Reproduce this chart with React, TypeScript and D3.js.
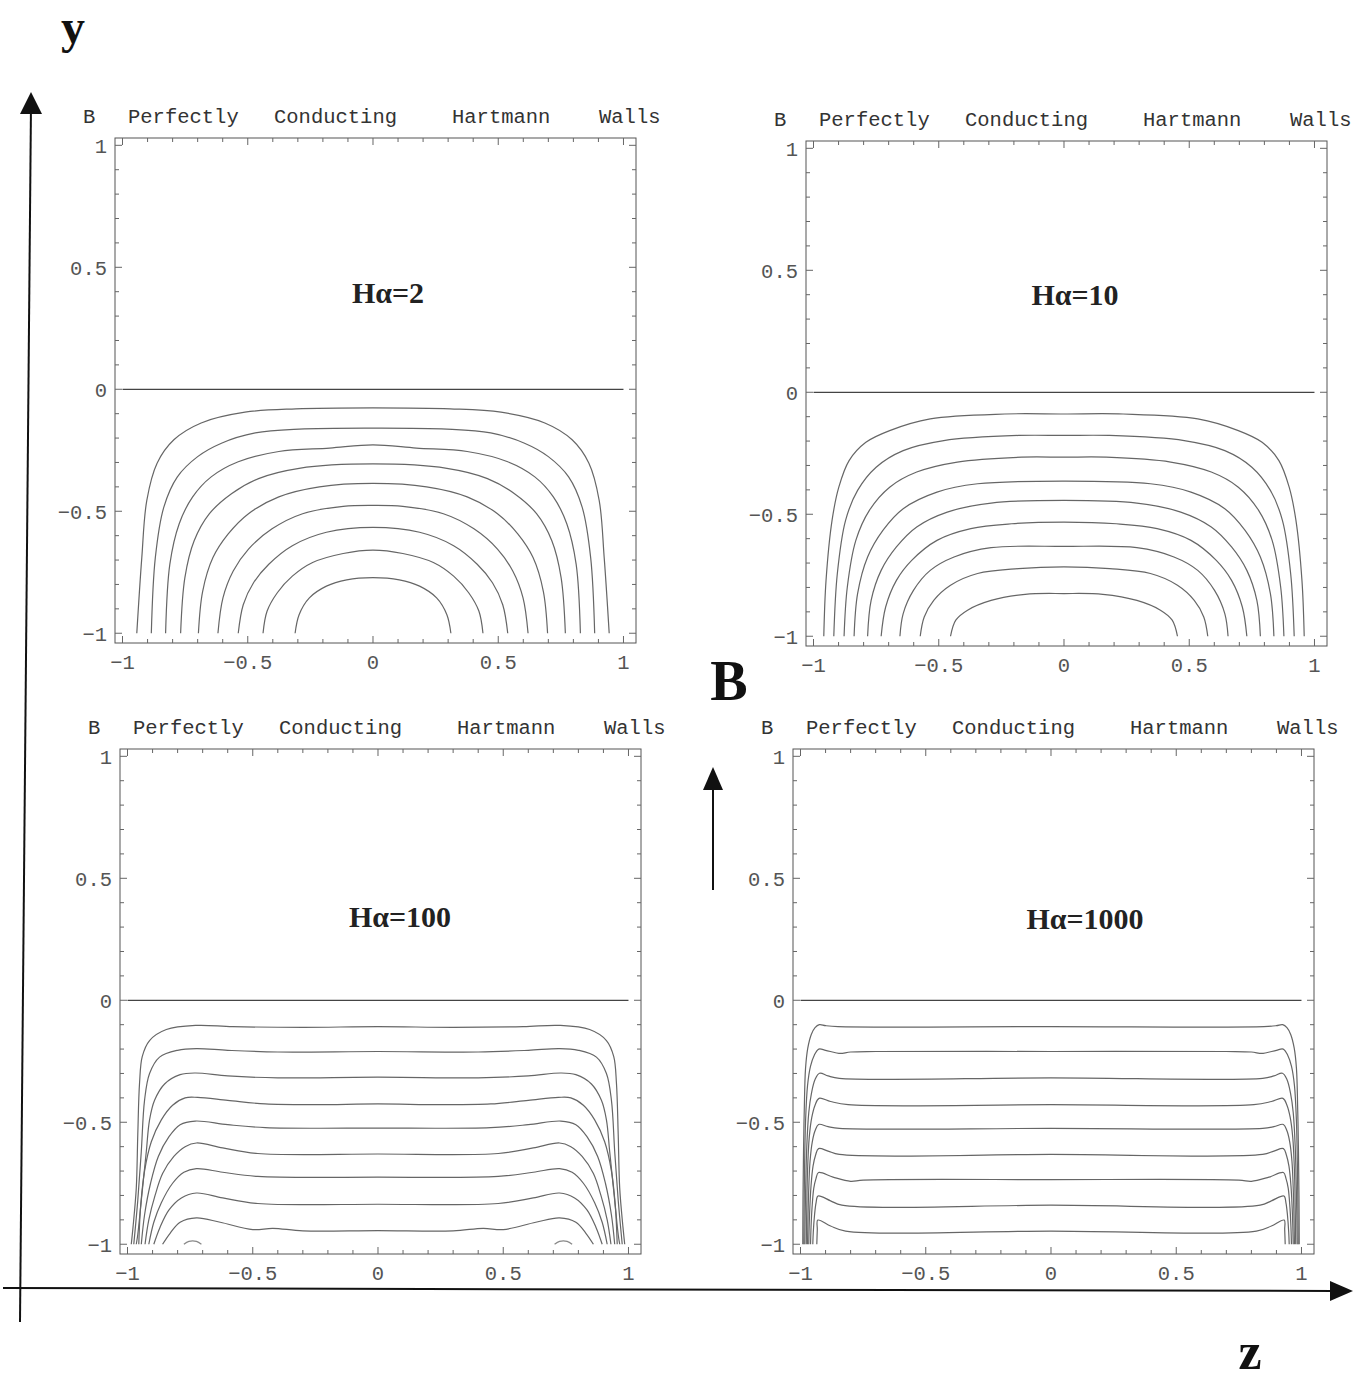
import React from "react";
import * as d3 from "d3";

type Pt = [number, number];

// Axis ticks shared by every panel
const xTicks = [-1, -0.5, 0, 0.5, 1];
const yTicks = [-1, -0.5, 0, 0.5, 1];
const minorTicks = d3.range(-10, 11).map((i) => i / 10);
const tickFormat = (v: number) => (v < 0 ? "\u2212" + String(-v) : String(v));

// Header words over each panel
const headerWords = ["B", "Perfectly", "Conducting", "Hartmann", "Walls"];
const headerOffsets = [-32, 13, 159, 337, 484];

const panelLabels = ["H\u03b1=2", "H\u03b1=10", "H\u03b1=100", "H\u03b1=1000"];

// Level-zero contour along the mid-plane
const zeroContour: Pt[] = [
  [-1, 0],
  [1, 0],
];

// Contours, left half (foot at y = -1 up to the centre z = 0); the right half is the mirror image
const ha2Halves: Pt[][] = [
  [[-0.943, -1], [-0.923, -0.69], [-0.903, -0.455], [-0.862, -0.303], [-0.795, -0.207], [-0.686, -0.138], [-0.511, -0.094], [-0.308, -0.08], [0, -0.076]],
  [[-0.885, -1], [-0.869, -0.69], [-0.835, -0.483], [-0.781, -0.359], [-0.7, -0.276], [-0.605, -0.221], [-0.47, -0.179], [-0.295, -0.163], [0, -0.159]],
  [[-0.828, -1], [-0.811, -0.717], [-0.774, -0.552], [-0.72, -0.441], [-0.646, -0.359], [-0.538, -0.297], [-0.376, -0.255], [-0.173, -0.241], [0, -0.228]],
  [[-0.768, -1], [-0.751, -0.772], [-0.714, -0.621], [-0.653, -0.51], [-0.565, -0.428], [-0.457, -0.366], [-0.295, -0.324], [0, -0.306]],
  [[-0.697, -1], [-0.68, -0.828], [-0.639, -0.69], [-0.578, -0.593], [-0.497, -0.51], [-0.376, -0.441], [-0.214, -0.4], [0, -0.386]],
  [[-0.619, -1], [-0.599, -0.855], [-0.558, -0.745], [-0.497, -0.655], [-0.403, -0.572], [-0.281, -0.51], [-0.119, -0.48], [0, -0.476]],
  [[-0.538, -1], [-0.518, -0.883], [-0.477, -0.793], [-0.416, -0.717], [-0.322, -0.641], [-0.186, -0.586], [0, -0.566]],
  [[-0.439, -1], [-0.423, -0.91], [-0.382, -0.834], [-0.322, -0.766], [-0.241, -0.71], [-0.119, -0.673], [0, -0.659]],
  [[-0.311, -1], [-0.295, -0.924], [-0.254, -0.855], [-0.186, -0.807], [-0.105, -0.781], [0, -0.772]],
];

const ha10Halves: Pt[][] = [
  [[-0.959, -1], [-0.95, -0.771], [-0.926, -0.525], [-0.899, -0.389], [-0.858, -0.28], [-0.791, -0.205], [-0.696, -0.157], [-0.534, -0.109], [-0.236, -0.089], [0, -0.089]],
  [[-0.919, -1], [-0.905, -0.744], [-0.872, -0.525], [-0.824, -0.402], [-0.75, -0.307], [-0.642, -0.239], [-0.48, -0.198], [-0.182, -0.177], [0, -0.177]],
  [[-0.878, -1], [-0.865, -0.798], [-0.831, -0.607], [-0.777, -0.484], [-0.696, -0.389], [-0.588, -0.327], [-0.426, -0.286], [-0.169, -0.266], [0, -0.266]],
  [[-0.838, -1], [-0.824, -0.825], [-0.784, -0.675], [-0.723, -0.566], [-0.642, -0.477], [-0.507, -0.409], [-0.345, -0.375], [0, -0.364]],
  [[-0.784, -1], [-0.77, -0.853], [-0.73, -0.73], [-0.669, -0.634], [-0.588, -0.552], [-0.466, -0.491], [-0.291, -0.454], [0, -0.443]],
  [[-0.73, -1], [-0.712, -0.88], [-0.669, -0.771], [-0.608, -0.689], [-0.507, -0.607], [-0.372, -0.559], [-0.209, -0.539], [0, -0.532]],
  [[-0.655, -1], [-0.642, -0.907], [-0.601, -0.812], [-0.534, -0.73], [-0.439, -0.675], [-0.291, -0.637], [0, -0.632]],
  [[-0.574, -1], [-0.558, -0.921], [-0.52, -0.853], [-0.453, -0.791], [-0.345, -0.743], [-0.182, -0.723], [0, -0.716]],
  [[-0.453, -1], [-0.432, -0.934], [-0.385, -0.893], [-0.291, -0.853], [-0.155, -0.828], [0, -0.825]],
];

const ha100Halves: Pt[][] = [
  [[-0.985, -1], [-0.978, -0.93], [-0.965, -0.77], [-0.959, -0.55], [-0.952, -0.34], [-0.941, -0.23], [-0.912, -0.165], [-0.845, -0.12], [-0.725, -0.103], [-0.58, -0.108], [-0.3, -0.111], [0, -0.108]],
  [[-0.975, -1], [-0.959, -0.82], [-0.945, -0.62], [-0.932, -0.41], [-0.912, -0.3], [-0.872, -0.233], [-0.8, -0.205], [-0.725, -0.198], [-0.6, -0.205], [-0.4, -0.212], [0, -0.21]],
  [[-0.965, -1], [-0.959, -0.96], [-0.945, -0.82], [-0.925, -0.62], [-0.912, -0.49], [-0.892, -0.41], [-0.852, -0.343], [-0.79, -0.305], [-0.73, -0.298], [-0.6, -0.31], [-0.4, -0.318], [0, -0.315]],
  [[-0.955, -1], [-0.948, -0.85], [-0.932, -0.7], [-0.905, -0.58], [-0.865, -0.49], [-0.82, -0.43], [-0.77, -0.4], [-0.72, -0.398], [-0.6, -0.41], [-0.45, -0.425], [-0.25, -0.428], [0, -0.425]],
  [[-0.945, -1], [-0.932, -0.88], [-0.908, -0.75], [-0.877, -0.64], [-0.835, -0.56], [-0.79, -0.51], [-0.73, -0.495], [-0.6, -0.51], [-0.45, -0.522], [0, -0.524]],
  [[-0.93, -1], [-0.915, -0.9], [-0.89, -0.8], [-0.86, -0.71], [-0.815, -0.64], [-0.77, -0.6], [-0.725, -0.585], [-0.62, -0.605], [-0.48, -0.628], [0, -0.63]],
  [[-0.915, -1], [-0.895, -0.91], [-0.865, -0.83], [-0.82, -0.75], [-0.775, -0.705], [-0.725, -0.69], [-0.62, -0.705], [-0.48, -0.722], [0, -0.725]],
  [[-0.895, -1], [-0.87, -0.93], [-0.835, -0.86], [-0.785, -0.81], [-0.725, -0.79], [-0.62, -0.81], [-0.48, -0.833], [0, -0.836]],
  [[-0.86, -1], [-0.83, -0.955], [-0.79, -0.91], [-0.725, -0.892], [-0.63, -0.91], [-0.5, -0.94], [-0.42, -0.935], [-0.3, -0.945], [0, -0.944]],
];

// Small closed-off caps sitting on the bottom wall (left one; the right one is mirrored)
const ha100Islands: Pt[][] = [
  [[-0.775, -1], [-0.755, -0.988], [-0.725, -0.988], [-0.705, -1]],
];

const ha1000Halves: Pt[][] = [
  [[-0.991, -1], [-0.99, -0.8], [-0.988, -0.62], [-0.985, -0.45], [-0.98, -0.28], [-0.971, -0.196], [-0.957, -0.14], [-0.942, -0.112], [-0.925, -0.1], [-0.9, -0.104], [-0.85, -0.108], [0, -0.108]],
  [[-0.987, -1], [-0.984, -0.7], [-0.98, -0.5], [-0.972, -0.35], [-0.96, -0.27], [-0.945, -0.225], [-0.927, -0.2], [-0.9, -0.205], [-0.86, -0.215], [-0.84, -0.218], [-0.8, -0.212], [-0.7, -0.21], [0, -0.21]],
  [[-0.983, -1], [-0.98, -0.8], [-0.975, -0.6], [-0.967, -0.46], [-0.956, -0.38], [-0.942, -0.325], [-0.924, -0.299], [-0.89, -0.31], [-0.845, -0.32], [0, -0.318]],
  [[-0.977, -1], [-0.975, -0.85], [-0.972, -0.7], [-0.965, -0.56], [-0.955, -0.48], [-0.942, -0.43], [-0.926, -0.402], [-0.88, -0.415], [-0.81, -0.428], [0, -0.428]],
  [[-0.972, -1], [-0.968, -0.8], [-0.962, -0.66], [-0.953, -0.58], [-0.942, -0.535], [-0.928, -0.509], [-0.89, -0.518], [-0.845, -0.525], [0, -0.525]],
  [[-0.967, -1], [-0.964, -0.88], [-0.958, -0.76], [-0.95, -0.68], [-0.94, -0.635], [-0.928, -0.608], [-0.89, -0.618], [-0.845, -0.632], [0, -0.632]],
  [[-0.96, -1], [-0.958, -0.93], [-0.954, -0.85], [-0.947, -0.77], [-0.938, -0.73], [-0.928, -0.706], [-0.87, -0.725], [-0.8, -0.742], [-0.75, -0.737], [0, -0.735]],
  [[-0.951, -1], [-0.949, -0.95], [-0.944, -0.88], [-0.938, -0.83], [-0.93, -0.802], [-0.88, -0.822], [-0.835, -0.84], [0, -0.84]],
  [[-0.935, -1], [-0.933, -0.94], [-0.931, -0.901], [-0.88, -0.925], [-0.82, -0.946], [0, -0.946]],
];

const FRAME_W = 521;
const FRAME_H = 505;
const zDomain: [number, number] = [-1.03, 1.05];
const yDomain: [number, number] = [-1.04, 1.03];

interface PanelSpec {
  left: number;
  top: number;
  label: string;
  labelX: number;
  labelY: number;
  halves: Pt[][];
  islands: Pt[][];
}

const panels: PanelSpec[] = [
  { left: 115, top: 138, label: panelLabels[0], labelX: 388, labelY: 303, halves: ha2Halves, islands: [] },
  { left: 806, top: 141, label: panelLabels[1], labelX: 1075, labelY: 305, halves: ha10Halves, islands: [] },
  { left: 120, top: 749, label: panelLabels[2], labelX: 400, labelY: 927, halves: ha100Halves, islands: ha100Islands },
  { left: 793, top: 749, label: panelLabels[3], labelX: 1085, labelY: 929, halves: ha1000Halves, islands: [] },
];

function mirrored(half: Pt[]): Pt[] {
  const right = half
    .slice(0, -1)
    .reverse()
    .map(([z, y]) => [-z, y] as Pt);
  return [...half, ...right];
}

const MONO = "'Liberation Mono', 'DejaVu Sans Mono', monospace";
const SERIF = "'Liberation Serif', 'DejaVu Serif', serif";
const CONTOUR = "#666";

function Panel({ spec }: { spec: PanelSpec }) {
  const x = d3.scaleLinear().domain(zDomain).range([spec.left, spec.left + FRAME_W]);
  const y = d3.scaleLinear().domain(yDomain).range([spec.top + FRAME_H, spec.top]);
  const line = d3
    .line<Pt>()
    .x((d) => x(d[0]))
    .y((d) => y(d[1]))
    .curve(d3.curveCatmullRom.alpha(0.5));
  const straight = d3
    .line<Pt>()
    .x((d) => x(d[0]))
    .y((d) => y(d[1]));

  const bottom = spec.top + FRAME_H;
  const right = spec.left + FRAME_W;
  const isMajor = (v: number) => Math.abs(v * 2 - Math.round(v * 2)) < 1e-6;

  return (
    <g>
      {/* header */}
      {headerWords.map((w, i) => (
        <text
          key={w}
          x={spec.left + headerOffsets[i]}
          y={spec.top - 15}
          fontFamily={MONO}
          fontSize={20.5}
          fill="#333"
        >
          {w}
        </text>
      ))}

      {/* frame */}
      <rect
        x={spec.left}
        y={spec.top}
        width={FRAME_W}
        height={FRAME_H}
        fill="none"
        stroke="#555"
        strokeWidth={1}
      />

      {/* frame ticks, pointing inward on all four sides */}
      {minorTicks.map((v) => {
        const len = isMajor(v) ? 7 : 4;
        return (
          <g key={"t" + v} stroke="#666" strokeWidth={1}>
            <line x1={x(v)} x2={x(v)} y1={bottom} y2={bottom - len} />
            <line x1={x(v)} x2={x(v)} y1={spec.top} y2={spec.top + len} />
            <line x1={spec.left} x2={spec.left + len} y1={y(v)} y2={y(v)} />
            <line x1={right} x2={right - len} y1={y(v)} y2={y(v)} />
          </g>
        );
      })}

      {/* tick labels */}
      {xTicks.map((v) => (
        <text
          key={"xl" + v}
          x={x(v)}
          y={bottom + 26}
          textAnchor="middle"
          fontFamily={MONO}
          fontSize={20.5}
          fill="#555"
        >
          {tickFormat(v)}
        </text>
      ))}
      {yTicks.map((v) => (
        <text
          key={"yl" + v}
          x={spec.left - 8}
          y={y(v)}
          dy="0.36em"
          textAnchor="end"
          fontFamily={MONO}
          fontSize={20.5}
          fill="#555"
        >
          {tickFormat(v)}
        </text>
      ))}

      {/* zero contour */}
      <path d={straight(zeroContour) ?? ""} fill="none" stroke="#444" strokeWidth={1.3} />

      {/* contours */}
      {spec.halves.map((h, i) => (
        <path
          key={"c" + i}
          d={line(mirrored(h)) ?? ""}
          fill="none"
          stroke={CONTOUR}
          strokeWidth={1.2}
          strokeLinejoin="round"
        />
      ))}
      {spec.islands.map((h, i) => (
        <g key={"is" + i}>
          <path d={line(h) ?? ""} fill="none" stroke="#888" strokeWidth={1.2} />
          <path
            d={line(h.map(([z, v]) => [-z, v] as Pt)) ?? ""}
            fill="none"
            stroke="#888"
            strokeWidth={1.2}
          />
        </g>
      ))}

      {/* Hartmann number */}
      <text
        x={spec.labelX}
        y={spec.labelY}
        textAnchor="middle"
        fontFamily={SERIF}
        fontWeight="bold"
        fontSize={30}
        fill="#222"
      >
        {spec.label}
      </text>
    </g>
  );
}

export default function App() {
  return (
    <svg
      width={1367}
      height={1381}
      viewBox="0 0 1367 1381"
      style={{ position: "absolute", left: 0, top: 0, background: "#fff" }}
    >
      <rect x={0} y={0} width={1367} height={1381} fill="#fff" />

      {/* coordinate axes of the whole figure */}
      <line x1={31} y1={104} x2={20} y2={1322} stroke="#111" strokeWidth={2} />
      <polygon points="31,92 20,114 42,114" fill="#111" />
      <line x1={3} y1={1288} x2={1334} y2={1291} stroke="#111" strokeWidth={2} />
      <polygon points="1353,1291 1330,1281 1330,1301" fill="#111" />

      {/* field direction arrow */}
      <line x1={713} y1={890} x2={713} y2={782} stroke="#111" strokeWidth={2} />
      <polygon points="713,767 703,790 723,790" fill="#111" />

      <text x={73} y={43} textAnchor="middle" fontFamily={SERIF} fontWeight="bold" fontSize={48} fill="#111">
        y
      </text>
      <text x={729} y={700} textAnchor="middle" fontFamily={SERIF} fontWeight="bold" fontSize={56} fill="#111">
        B
      </text>
      <text x={1250} y={1369} textAnchor="middle" fontFamily={SERIF} fontWeight="bold" fontSize={52} fill="#111">
        z
      </text>

      {panels.map((p, i) => (
        <Panel key={i} spec={p} />
      ))}
    </svg>
  );
}
